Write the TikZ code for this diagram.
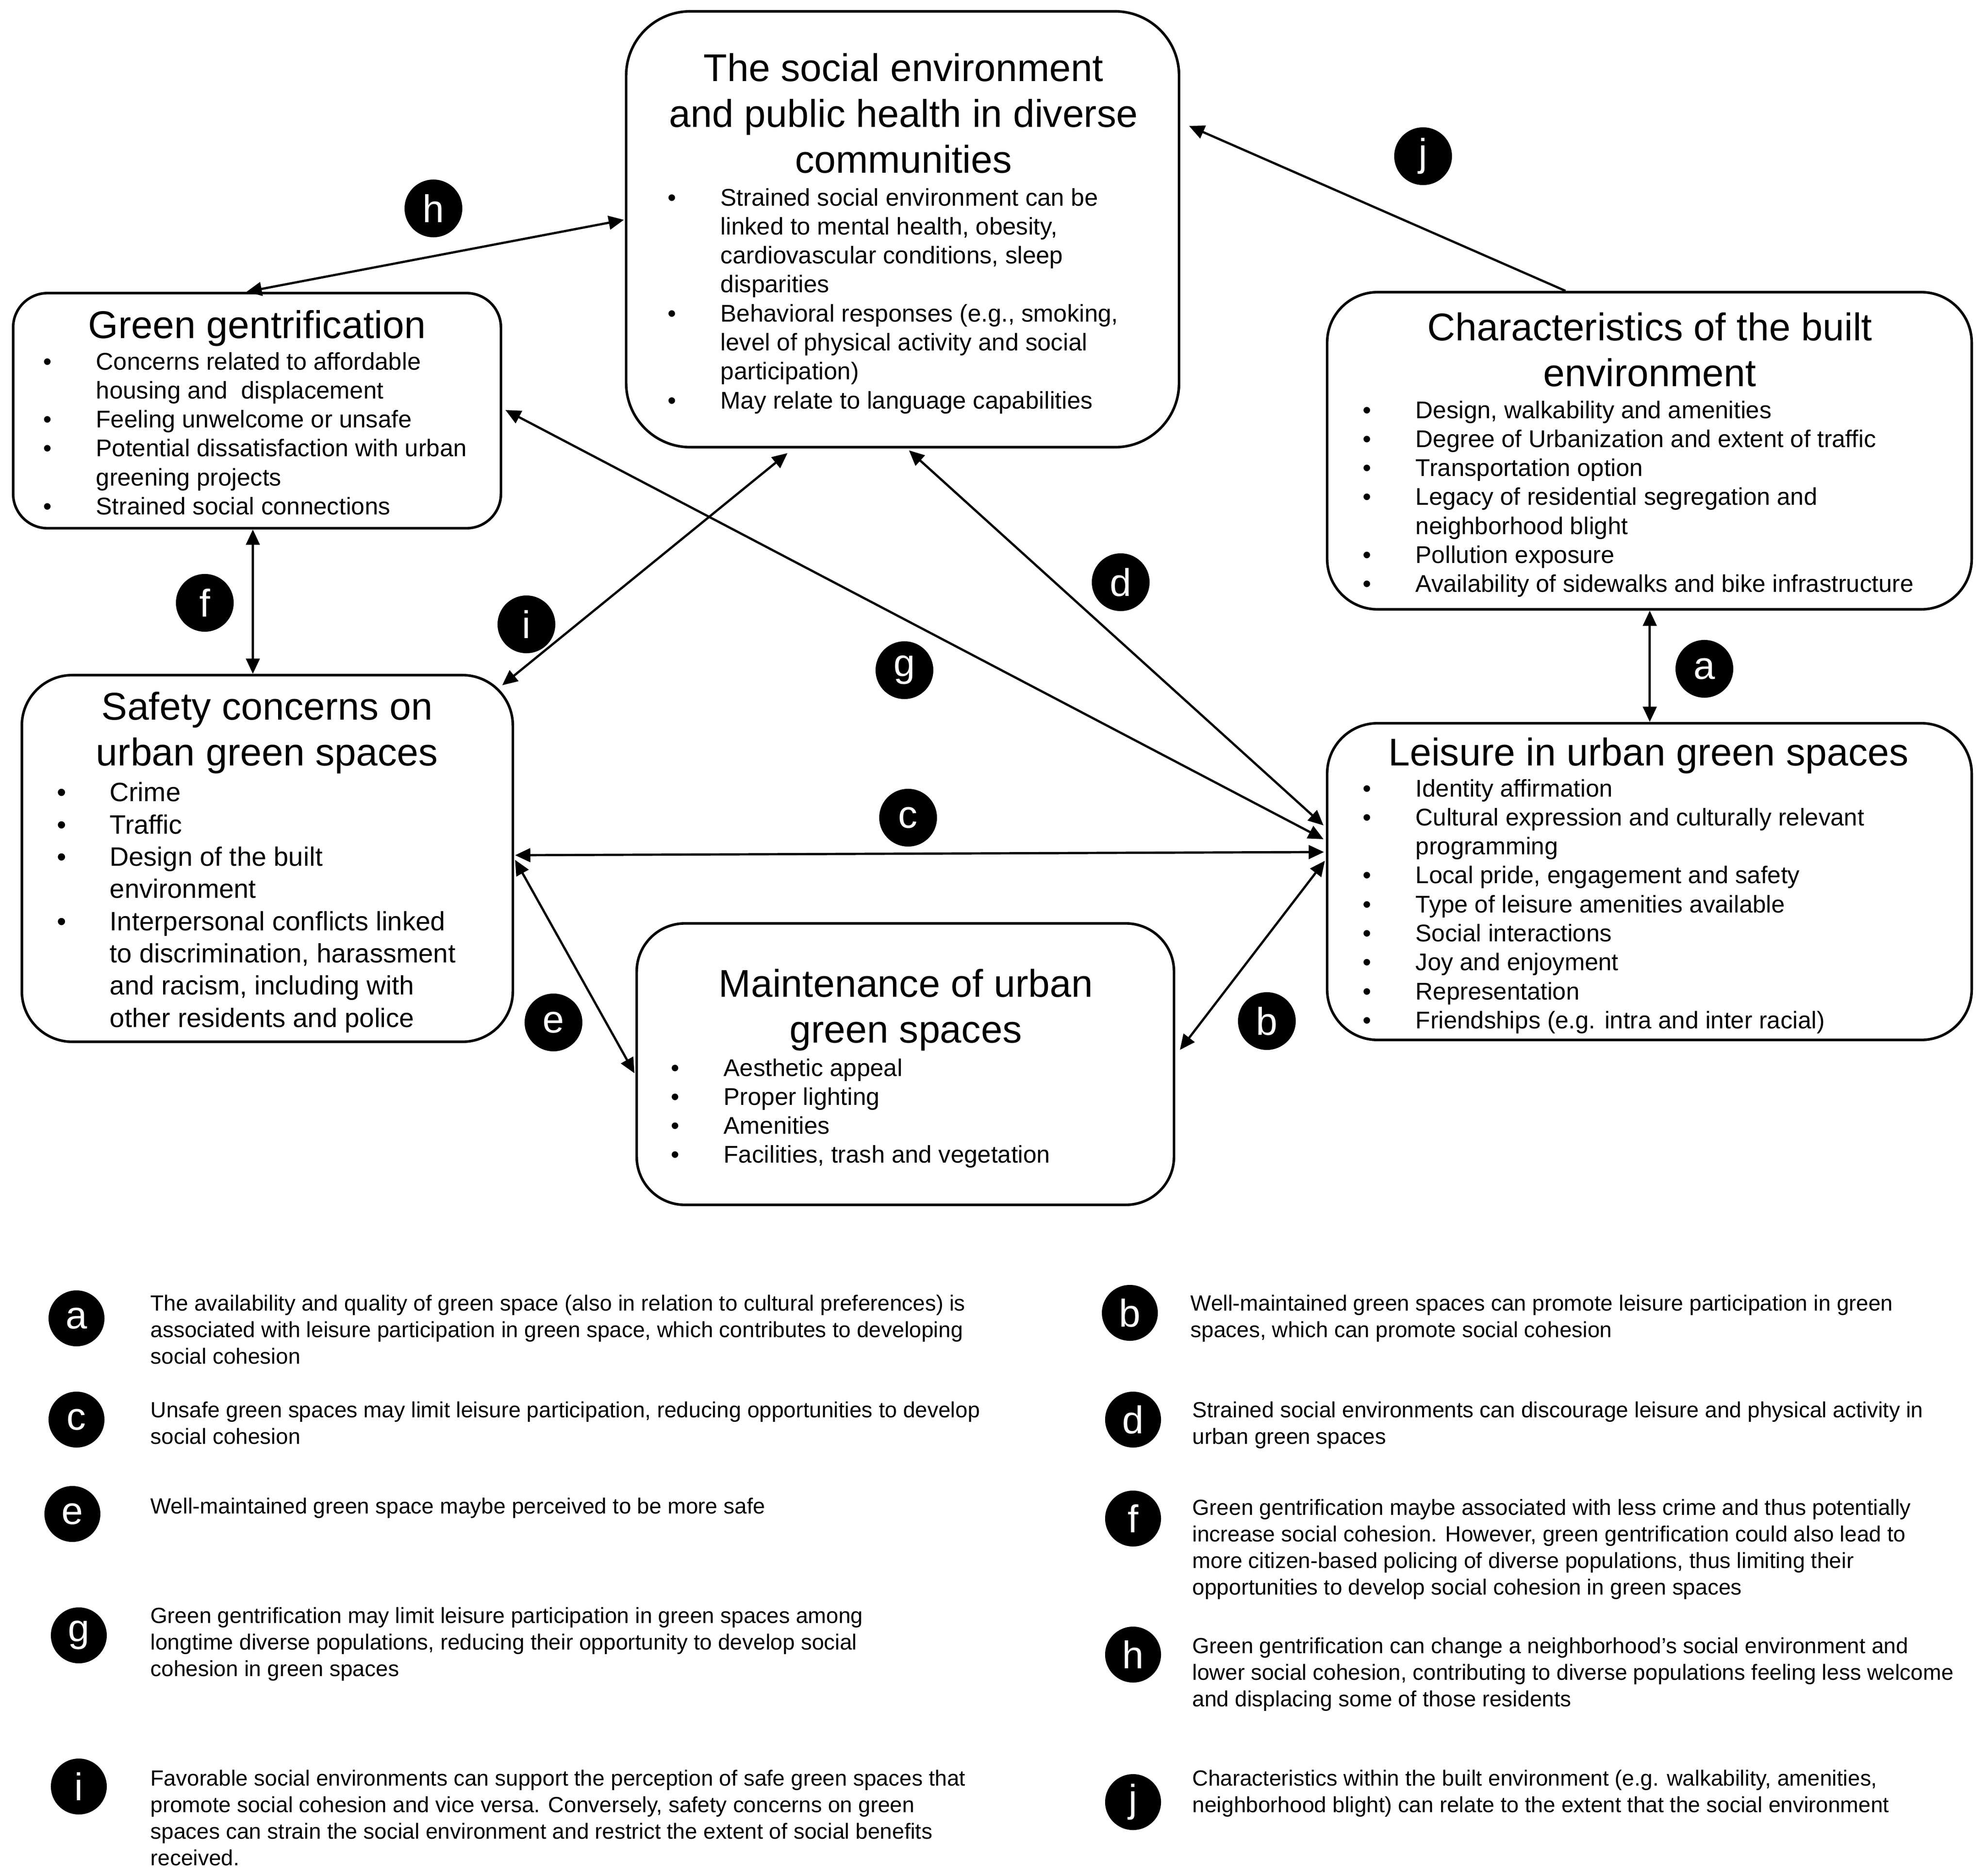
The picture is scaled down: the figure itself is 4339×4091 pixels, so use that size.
\documentclass[tikz,border=0pt]{standalone}
\usepackage{fontspec}
\setmainfont{Liberation Sans}
\usetikzlibrary{arrows.meta,calc}
\newlength{\bulind}\setlength{\bulind}{1.15cm}
\newcommand{\bu}{\makebox[\bulind][l]{\textbullet}}
\newcommand{\nb}{\hspace*{\bulind}}
\begin{document}
\begin{tikzpicture}[x=0.01cm,y=-0.01cm,
  >={Triangle[length=9.5pt,width=8.5pt]},
  box/.style={draw,line width=1.6pt,rounded corners=#1,inner sep=0pt},
  ttl/.style={anchor=north,align=center,inner sep=0pt,font=\fontsize{24}{28.45}\selectfont},
  blist/.style={anchor=north west,align=left,inner sep=0pt,font=\fontsize{15}{18}\selectfont},
  slist/.style={anchor=north west,align=left,inner sep=0pt,font=\fontsize{16.5}{20}\selectfont},
  leg/.style={anchor=north west,align=left,inner sep=0pt,font=\fontsize{13.6}{16.5}\selectfont},
  circ/.style={circle,fill=black,inner sep=0pt,minimum size=1.26cm,text=white,font=\fontsize{24}{24}\selectfont},
  lcirc/.style={circ,minimum size=1.22cm},
  conn/.style={line width=1.4pt}]
\useasboundingbox[fill=white] (0,0) rectangle (4339,4091);
% ---- boxes ----
\node[box=1.4cm,minimum width=12.06cm,minimum height=9.51cm] (top) at (1970,500.5) {};
\node[box=0.75cm,minimum width=10.64cm,minimum height=5.13cm] (green) at (561,896.5) {};
\node[box=1.1cm,minimum width=14.06cm,minimum height=6.92cm] (char) at (3600,984) {};
\node[box=1.1cm,minimum width=10.71cm,minimum height=8.0cm] (safety) at (583.5,1874) {};
\node[box=1.1cm,minimum width=14.06cm,minimum height=6.91cm] (leisure) at (3600,1924.5) {};
\node[box=1.05cm,minimum width=11.72cm,minimum height=6.14cm] (maint) at (1976,2323) {};
% ---- titles ----
\node[ttl] (toptitle) at (1972,107) {\strut The social environment\\and public health in diverse\\communities};
\node[ttl] (greentitle) at (561,668) {\strut Green gentrification};
\node[ttl] (chartitle) at (3601,673) {\strut Characteristics of the built\\environment};
\node[ttl] (safetytitle) at (583,1501) {\strut Safety concerns on\\urban green spaces};
\node[ttl] (leisuretitle) at (3598,1601) {\strut Leisure in urban green spaces};
\node[ttl] (mainttitle) at (1977,2106) {\strut Maintenance of urban\\green spaces};
% ---- bullet lists ----
\node[blist] (toplist) at (1457,404) {\strut\bu Strained social environment can be\\\nb linked to mental health, obesity,\\\nb cardiovascular conditions, sleep\\\nb disparities\\\bu Behavioral responses (e.g., smoking,\\\nb level of physical activity and social\\\nb participation)\\\bu May relate to language capabilities};
\node[blist] (greenlist) at (94,762) {\strut\bu Concerns related to affordable\\\nb housing and \ displacement\\\bu Feeling unwelcome or unsafe\\\bu Potential dissatisfaction with urban\\\nb greening projects\\\bu Strained social connections};
\node[blist] (charlist) at (2974,868) {\strut\bu Design, walkability and amenities\\\bu Degree of Urbanization and extent of traffic\\\bu Transportation option\\\bu Legacy of residential segregation and\\\nb neighborhood blight\\\bu Pollution exposure\\\bu Availability of sidewalks and bike infrastructure};
\node[slist] (safetylist) at (124,1700) {\strut\bu Crime\\\bu Traffic\\\bu Design of the built\\\nb environment\\\bu Interpersonal conflicts linked\\\nb to discrimination, harassment\\\nb and racism, including with\\\nb other residents and police};
\node[blist] (leisurelist) at (2974,1694) {\strut\bu Identity affirmation\\\bu Cultural expression and culturally relevant\\\nb programming\\\bu Local pride, engagement and safety\\\bu Type of leisure amenities available\\\bu Social interactions\\\bu Joy and enjoyment\\\bu Representation\\\bu Friendships (e.g. intra and inter racial)};
\node[blist] (maintlist) at (1464,2304) {\strut\bu Aesthetic appeal\\\bu Proper lighting\\\bu Amenities\\\bu Facilities, trash and vegetation};
% ---- connectors ----
\draw[conn,<->] ($(green.north west)+(512,0)$) -- ($(top.north west)+(-2,458)$);
\draw[conn,->] ($(char.north west)+(523,0)$) -- ($(top.north east)+(19,253)$);
\draw[conn,<->] ($(green.south west)+(526,0)$) -- ($(safety.north west)+(507,0)$);
\draw[conn,<->] ($(safety.north east)+(-26,25)$) -- ($(top.south west)+(355,10)$);
\draw[conn,<->] ($(top.south west)+(620,4)$) -- ($(leisure.north west)+(-5,226)$);
\draw[conn,<->] ($(green.north east)+(7,258)$) -- ($(leisure.north west)+(-5,256)$);
\draw[conn,<->] ($(safety.north east)+(2,396)$) -- ($(leisure.north west)+(-4,284)$);
\draw[conn,<->] ($(safety.north east)+(2,406)$) -- ($(maint.north west)+(-2,330)$);
\draw[conn,<->] ($(leisure.north west)+(-2,303)$) -- ($(maint.north east)+(10,279)$);
\draw[conn,<->] ($(char.south west)+(707,0)$) -- ($(leisure.north west)+(707,0)$);
% ---- diagram labels ----
\node[circ] (ch) at (946,455) {h};
\node[circ] (cj) at (3106,341) {j};
\node[circ] (cf) at (447,1316) {f};
\node[circ] (ci) at (1149,1363) {i};
\node[circ] (cd) at (2446,1271) {d};
\node[circ] (cg) at (1974,1463) {g};
\node[circ] (ca) at (3720,1460) {a};
\node[circ] (cc) at (1982,1785) {c};
\node[circ] (ce) at (1208,2232) {e};
\node[circ] (cb) at (2765,2229) {b};
% ---- legend ----
\node[lcirc] (ka) at (167,2878) {a};
\node[leg] (ta) at (328,2820) {\strut The availability and quality of green space (also in relation to cultural preferences) is\\associated with leisure participation in green space, which contributes to developing\\social cohesion};
\node[lcirc] (kb) at (2466,2866) {b};
\node[leg] (tb) at (2598,2820) {\strut Well-maintained green spaces can promote leisure participation in green\\spaces, which can promote social cohesion};
\node[lcirc] (kc) at (167,3099) {c};
\node[leg] (tc) at (328,3053) {\strut Unsafe green spaces may limit leisure participation, reducing opportunities to develop\\social cohesion};
\node[lcirc] (kd) at (2473,3099) {d};
\node[leg] (td) at (2602,3053) {\strut Strained social environments can discourage leisure and physical activity in\\urban green spaces};
\node[lcirc] (ke) at (158,3305) {e};
\node[leg] (te) at (328,3263) {\strut Well-maintained green space maybe perceived to be more safe};
\node[lcirc] (kf) at (2473,3315) {f};
\node[leg] (tf) at (2602,3266) {\strut Green gentrification maybe associated with less crime and thus potentially\\increase social cohesion. However, green gentrification could also lead to\\more citizen-based policing of diverse populations, thus limiting their\\opportunities to develop social cohesion in green spaces};
\node[lcirc] (kg) at (172,3570) {g};
\node[leg] (tg) at (328,3502) {\strut Green gentrification may limit leisure participation in green spaces among\\longtime diverse populations, reducing their opportunity to develop social\\cohesion in green spaces};
\node[lcirc] (kh) at (2473,3612) {h};
\node[leg] (th) at (2602,3568) {\strut Green gentrification can change a neighborhood’s social environment and\\lower social cohesion, contributing to diverse populations feeling less welcome\\and displacing some of those residents};
\node[lcirc] (ki) at (172,3900) {i};
\node[leg] (ti) at (328,3857) {\strut Favorable social environments can support the perception of safe green spaces that\\promote social cohesion and vice versa. Conversely, safety concerns on green\\spaces can strain the social environment and restrict the extent of social benefits\\received.};
\node[lcirc] (kj) at (2473,3934) {j};
\node[leg] (tj) at (2602,3857) {\strut Characteristics within the built environment (e.g. walkability, amenities,\\neighborhood blight) can relate to the extent that the social environment};
\end{tikzpicture}
\end{document}
